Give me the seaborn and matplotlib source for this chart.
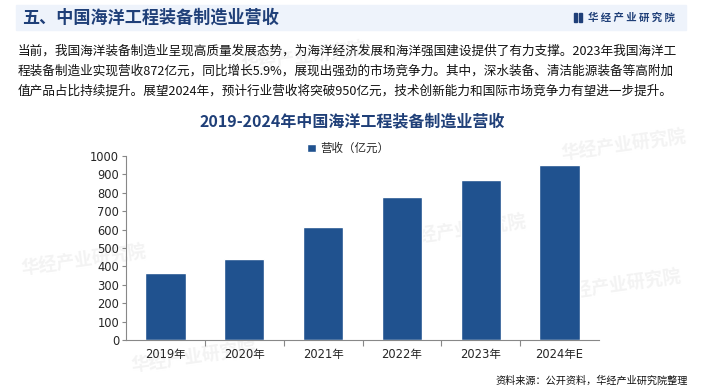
import matplotlib
matplotlib.use("Agg")
import matplotlib.pyplot as plt
import matplotlib.patches as mpatches
import pandas as pd
import seaborn as sns

years = ["2019年", "2020年", "2021年", "2022年", "2023年", "2024年E"]
revenue = [365, 438, 615, 775, 872, 950]
series_name = "营收（亿元）"
yticks = [0, 100, 200, 300, 400, 500, 600, 700, 800, 900, 1000]

header = "五、中国海洋工程装备制造业营收"
brand = "华 经 产 业 研 究 院"
paragraph = [
    "当前，我国海洋装备制造业呈现高质量发展态势，为海洋经济发展和海洋强国建设提供了有力支撑。2023年我国海洋工",
    "程装备制造业实现营收872亿元，同比增长5.9%，展现出强劲的市场竞争力。其中，深水装备、清洁能源装备等高附加",
    "值产品占比持续提升。展望2024年，预计行业营收将突破950亿元，技术创新能力和国际市场竞争力有望进一步提升。",
]
chart_title = "2019-2024年中国海洋工程装备制造业营收"
source = "资料来源：公开资料，华经产业研究院整理"

df = pd.DataFrame({"year": years, "revenue": revenue})

sns.set_style("white")
plt.rcParams["font.family"] = ["Noto Sans CJK SC", "DejaVu Sans"]

BLUE = "#20528f"
DARK = "#1f3f78"

fig = plt.figure(figsize=(7.04, 3.92), dpi=100)

# header band
fig.patches.append(mpatches.Rectangle((16 / 704, 1 - 30 / 392), 670 / 704, 25 / 392,
                                      transform=fig.transFigure, color="#eef3fb", zorder=-2))
fig.text(22 / 704, 1 - 17.5 / 392, header, fontsize=12.3, fontweight="bold", color=DARK, va="center")
fig.patches.append(mpatches.Rectangle((574 / 704, 1 - 22 / 392), 3 / 704, 9 / 392,
                                      transform=fig.transFigure, color=DARK))
fig.patches.append(mpatches.Rectangle((579 / 704, 1 - 22 / 392), 3 / 704, 9 / 392,
                                      transform=fig.transFigure, color=DARK))
fig.text(588 / 704, 1 - 17.5 / 392, brand, fontsize=7.5, fontweight="bold", color=DARK, va="center")

# faint watermarks behind everything
for wx, wy in [(20, 275), (240, 72), (400, 245), (130, 372), (555, 300), (560, 160)]:
    fig.text(wx / 704, 1 - wy / 392, "华经产业研究院", fontsize=13, fontweight="bold",
             color="#f3f3f3", rotation=8, zorder=-1)

for i, line in enumerate(paragraph):
    fig.text(18 / 704, 1 - (51 + i * 20) / 392, line, fontsize=9.1, color="#111111", va="center")

fig.text(352 / 704, 1 - 121 / 392, chart_title, fontsize=11.5, fontweight="bold",
         color=DARK, ha="center", va="center")

ax = fig.add_axes([126 / 704, 1 - 340 / 392, 473 / 704, 184 / 392])
ax.set_zorder(1)
ax.patch.set_alpha(0)
sns.barplot(data=df, x="year", y="revenue", color=BLUE, width=0.51, ax=ax,
            label=series_name, saturation=1)
ax.set_ylim(0, 1000)
ax.set_xlim(-0.5, len(years) - 0.5)
ax.set_yticks(yticks)
ax.set_xlabel("")
ax.set_ylabel("")
for s in ["top", "right"]:
    ax.spines[s].set_visible(False)
for s in ["left", "bottom"]:
    ax.spines[s].set_color("#888888")
    ax.spines[s].set_linewidth(0.8)
ax.tick_params(axis="y", length=3, width=0.8, color="#888888", labelsize=8.3, pad=2, left=True)
ax.tick_params(axis="x", length=0, labelsize=8.3, pad=6)
ax.set_xticks([i + 0.5 for i in range(len(years) - 1)], minor=True)
ax.tick_params(axis="x", which="minor", length=4, width=0.8, color="#888888", bottom=True)
for t in ax.get_yticklabels() + ax.get_xticklabels():
    t.set_family(["DejaVu Sans", "Noto Sans CJK SC"])

ax.legend(loc="center", bbox_to_anchor=(0.47, 1.04), frameon=False, fontsize=8.3,
          handlelength=0.7, handleheight=0.7, handletextpad=0.4)

fig.text(688 / 704, 1 - 381 / 392, source, fontsize=7.3, color="#111111", ha="right", va="center")

fig.savefig("out.png", dpi=100)
